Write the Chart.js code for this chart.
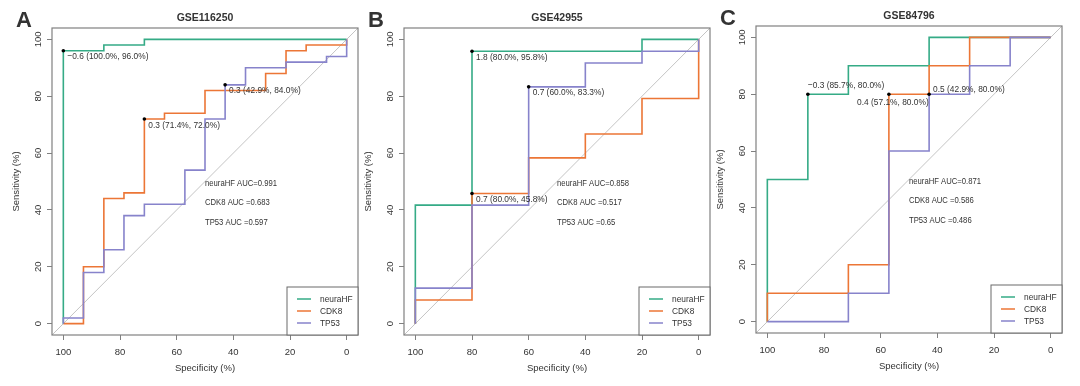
<!DOCTYPE html>
<html>
<head>
<meta charset="utf-8">
<script src="https://cdn.jsdelivr.net/npm/chart.js@4.4.1/dist/chart.umd.min.js"></script>
<style>
  body { margin: 0; background: #fff; width: 1080px; height: 386px; overflow: hidden; position: relative; }
  canvas { position: absolute; }
</style>
</head>
<body>
<canvas id="pa" width="370" height="386" style="left:0;top:0"></canvas>
<canvas id="pb" width="370" height="386" style="left:352px;top:0"></canvas>
<canvas id="pc" width="370" height="386" style="left:704px;top:-2px"></canvas>
<script>
// shared
const seriesNames = ['neuraHF', 'CDK8', 'TP53'];
const tickVals = [0, 20, 40, 60, 80, 100];

// A - GSE116250
const aHfSpec = [100, 100, 85.7, 85.7, 71.4, 71.4, 0];
const aHfSens = [0, 96, 96, 98, 98, 100, 100];
const aCdkSpec = [100, 92.9, 92.9, 85.7, 85.7, 78.6, 78.6, 71.4, 71.4, 64.3, 64.3, 50, 50, 28.6, 28.6, 21.4, 21.4, 14.3, 14.3, 0, 0];
const aCdkSens = [0, 0, 20, 20, 44, 44, 46, 46, 72, 72, 74, 74, 82, 82, 88, 88, 96, 96, 98, 98, 100];
const aTpSpec = [100, 100, 92.9, 92.9, 85.7, 85.7, 78.6, 78.6, 71.4, 71.4, 57.1, 57.1, 50, 50, 42.9, 42.9, 35.7, 35.7, 21.4, 21.4, 7.1, 7.1, 0, 0];
const aTpSens = [0, 2, 2, 18, 18, 26, 26, 38, 38, 42, 42, 54, 54, 72, 72, 84, 84, 90, 90, 92, 92, 94, 94, 100];
const aCutSpec = [100, 71.4, 42.9];
const aCutSens = [96, 72, 84];
const aCutText = ['\u22120.6 (100.0%, 96.0%)', '0.3 (71.4%, 72.0%)', '0.3 (42.9%, 84.0%)'];
const aAuc = ['0.991', '0.683', '0.597'];

// B - GSE42955
const bHfSpec = [100, 100, 80, 80, 20, 20, 0];
const bHfSens = [0, 41.7, 41.7, 95.8, 95.8, 100, 100];
const bCdkSpec = [100, 100, 80, 80, 60, 60, 40, 40, 20, 20, 0, 0];
const bCdkSens = [0, 8.3, 8.3, 45.8, 45.8, 58.3, 58.3, 66.7, 66.7, 79.2, 79.2, 100];
const bTpSpec = [100, 100, 80, 80, 60, 60, 40, 40, 20, 20, 0, 0];
const bTpSens = [0, 12.5, 12.5, 41.7, 41.7, 83.3, 83.3, 91.7, 91.7, 95.8, 95.8, 100];
const bCutSpec = [80, 60, 80];
const bCutSens = [95.8, 83.3, 45.8];
const bCutText = ['1.8 (80.0%, 95.8%)', '0.7 (60.0%, 83.3%)', '0.7 (80.0%, 45.8%)'];
const bAuc = ['0.858', '0.517', '0.65'];

// C - GSE84796
const cHfSpec = [100, 100, 85.7, 85.7, 71.4, 71.4, 42.9, 42.9, 0];
const cHfSens = [0, 50, 50, 80, 80, 90, 90, 100, 100];
const cCdkSpec = [100, 100, 71.4, 71.4, 57.1, 57.1, 42.9, 42.9, 28.6, 28.6, 0];
const cCdkSens = [0, 10, 10, 20, 20, 80, 80, 90, 90, 100, 100];
const cTpSpec = [100, 71.4, 71.4, 57.1, 57.1, 42.9, 42.9, 28.6, 28.6, 14.3, 14.3, 0];
const cTpSens = [0, 0, 10, 10, 60, 60, 80, 80, 90, 90, 100, 100];
const cCutSpec = [85.7, 57.1, 42.9];
const cCutSens = [80, 80, 80];
const cCutText = ['\u22120.3 (85.7%, 80.0%)', '0.4 (57.1%, 80.0%)', '0.5 (42.9%, 80.0%)'];
const cAuc = ['0.871', '0.586', '0.486'];

const colors = ['#35ab86', '#ec7636', '#8783cb'];
const FONT = "'Liberation Sans', Arial, Helvetica, sans-serif";
const TXT = '#333';
const AXC = '#808080';

function zip(xs, ys) { return xs.map((x, i) => ({ x: x, y: ys[i] })); }

// text squeezed sideways a little, the source figure's labels are narrow
function narrowText(ctx, t, x, y, sx, align) {
  ctx.save();
  ctx.translate(x, y);
  ctx.scale(sx, 1);
  ctx.textAlign = align;
  ctx.fillText(t, 0, 0);
  ctx.restore();
}

const decor = {
  id: 'decor',
  afterDraw(chart) {
    const p = chart.options.plugins.decor;
    const ctx = chart.ctx;
    const { left, right, top, bottom } = chart.chartArea;
    const xs = chart.scales.x, ys = chart.scales.y;
    ctx.save();
    // plot box
    ctx.strokeStyle = AXC;
    ctx.lineWidth = 1.2;
    ctx.strokeRect(left, top, right - left, bottom - top);

    ctx.fillStyle = TXT;
    // y tick labels, rotated like R
    ctx.font = '9.5px ' + FONT;
    ctx.textAlign = 'center';
    ctx.textBaseline = 'middle';
    tickVals.forEach(v => {
      ctx.save();
      ctx.translate(left - 13.5, ys.getPixelForValue(v));
      ctx.rotate(-Math.PI / 2);
      ctx.fillText(String(v), 0, 0);
      ctx.restore();
    });

    // title + panel letter
    ctx.font = 'bold 10.5px ' + FONT;
    ctx.fillText(p.title, (left + right) / 2, 18);
    ctx.font = 'bold 22px ' + FONT;
    ctx.textAlign = 'left';
    ctx.textBaseline = 'alphabetic';
    ctx.fillText(p.letter, 16, 27);

    // AUC text
    ctx.font = '9.5px ' + FONT;
    ctx.textBaseline = 'middle';
    const aucY = [49.5, 42.6, 35.7];
    const aucLab = [' AUC=', ' AUC =', ' AUC ='];
    p.auc.forEach((a, i) => {
      narrowText(ctx, seriesNames[i] + aucLab[i] + a, xs.getPixelForValue(50), ys.getPixelForValue(aucY[i]), 0.81, 'left');
    });

    // threshold labels
    p.cutText.forEach((t, i) => {
      const pl = (p.place && p.place[i]) || { dx: 4, dy: 6, align: 'left' };
      narrowText(ctx, t, xs.getPixelForValue(p.cutSpec[i]) + pl.dx, ys.getPixelForValue(p.cutSens[i]) + pl.dy, 0.88, pl.align);
    });

    // legend, bottom right
    const lw = 71, lh = 48;
    const x0 = right - lw, y0 = bottom - lh;
    ctx.fillStyle = '#fff';
    ctx.fillRect(x0, y0, lw, lh);
    ctx.strokeStyle = '#6a6a6a';
    ctx.lineWidth = 1;
    ctx.strokeRect(x0, y0, lw, lh);
    seriesNames.forEach((n, i) => {
      const yy = y0 + 12 + i * 12;
      ctx.strokeStyle = colors[i];
      ctx.lineWidth = 1.5;
      ctx.beginPath();
      ctx.moveTo(x0 + 10, yy);
      ctx.lineTo(x0 + 24, yy);
      ctx.stroke();
      ctx.fillStyle = TXT;
      narrowText(ctx, n, x0 + 33, yy, 0.88, 'left');
    });
    ctx.restore();
  }
};

function makePanel(id, letter, title, series, cutSpec, cutSens, cutText, auc, place) {
  const datasets = [{
    label: 'ref',
    data: [{ x: 104, y: -4 }, { x: -4, y: 104 }],
    borderColor: '#c4c4c4', borderWidth: 1, showLine: true, pointRadius: 0, order: 10
  }];
  series.forEach((s, i) => {
    datasets.push({
      label: seriesNames[i],
      data: zip(s[0], s[1]),
      borderColor: colors[i], borderWidth: 1.6,
      showLine: true, pointRadius: 0, tension: 0, order: 3 - i
    });
  });
  datasets.push({
    label: 'cut',
    data: zip(cutSpec, cutSens),
    pointRadius: 1.8, pointBackgroundColor: '#000', pointBorderWidth: 0,
    showLine: false, order: 0
  });

  new Chart(document.getElementById(id), {
    type: 'scatter',
    data: { datasets: datasets },
    plugins: [decor],
    options: {
      responsive: false,
      animation: false,
      devicePixelRatio: 1,
      layout: { padding: { top: 28, right: 12, left: 0, bottom: 0 } },
      plugins: {
        legend: { display: false },
        tooltip: { enabled: false },
        decor: { letter, title, cutSpec, cutSens, cutText, auc, place }
      },
      scales: {
        x: {
          type: 'linear', reverse: true, min: -4, max: 104,
          afterBuildTicks: s => { s.ticks = tickVals.map(v => ({ value: v })); },
          afterFit: s => { s.height = 51; },
          grid: { drawOnChartArea: false, drawTicks: true, tickLength: 5, color: AXC },
          border: { display: false },
          ticks: { font: { family: FONT, size: 9.5 }, color: TXT, padding: 7, maxRotation: 0, autoSkip: false },
          title: { display: true, text: 'Specificity (%)', font: { family: FONT, size: 9.5 }, color: TXT, padding: { top: 0, bottom: 12 } }
        },
        y: {
          type: 'linear', min: -4, max: 104,
          afterBuildTicks: s => { s.ticks = tickVals.map(v => ({ value: v })); },
          afterFit: s => { s.width = 52; },
          grid: { drawOnChartArea: false, drawTicks: true, tickLength: 5, color: AXC },
          border: { display: false },
          ticks: { font: { family: FONT, size: 9.5 }, color: 'rgba(0,0,0,0)', autoSkip: false },
          title: { display: true, text: 'Sensitivity (%)', font: { family: FONT, size: 9.5 }, color: TXT, padding: { top: 11, bottom: 0 } }
        }
      }
    }
  });
}

makePanel('pa', 'A', 'GSE116250',
  [[aHfSpec, aHfSens], [aCdkSpec, aCdkSens], [aTpSpec, aTpSens]],
  aCutSpec, aCutSens, aCutText, aAuc, null);
makePanel('pb', 'B', 'GSE42955',
  [[bHfSpec, bHfSens], [bCdkSpec, bCdkSens], [bTpSpec, bTpSens]],
  bCutSpec, bCutSens, bCutText, bAuc, null);
makePanel('pc', 'C', 'GSE84796',
  [[cHfSpec, cHfSens], [cCdkSpec, cCdkSens], [cTpSpec, cTpSens]],
  cCutSpec, cCutSens, cCutText, cAuc,
  [{ dx: 0, dy: -9, align: 'left' }, { dx: 4, dy: 8, align: 'center' }, { dx: 4, dy: -5, align: 'left' }]);
</script>
</body>
</html>
